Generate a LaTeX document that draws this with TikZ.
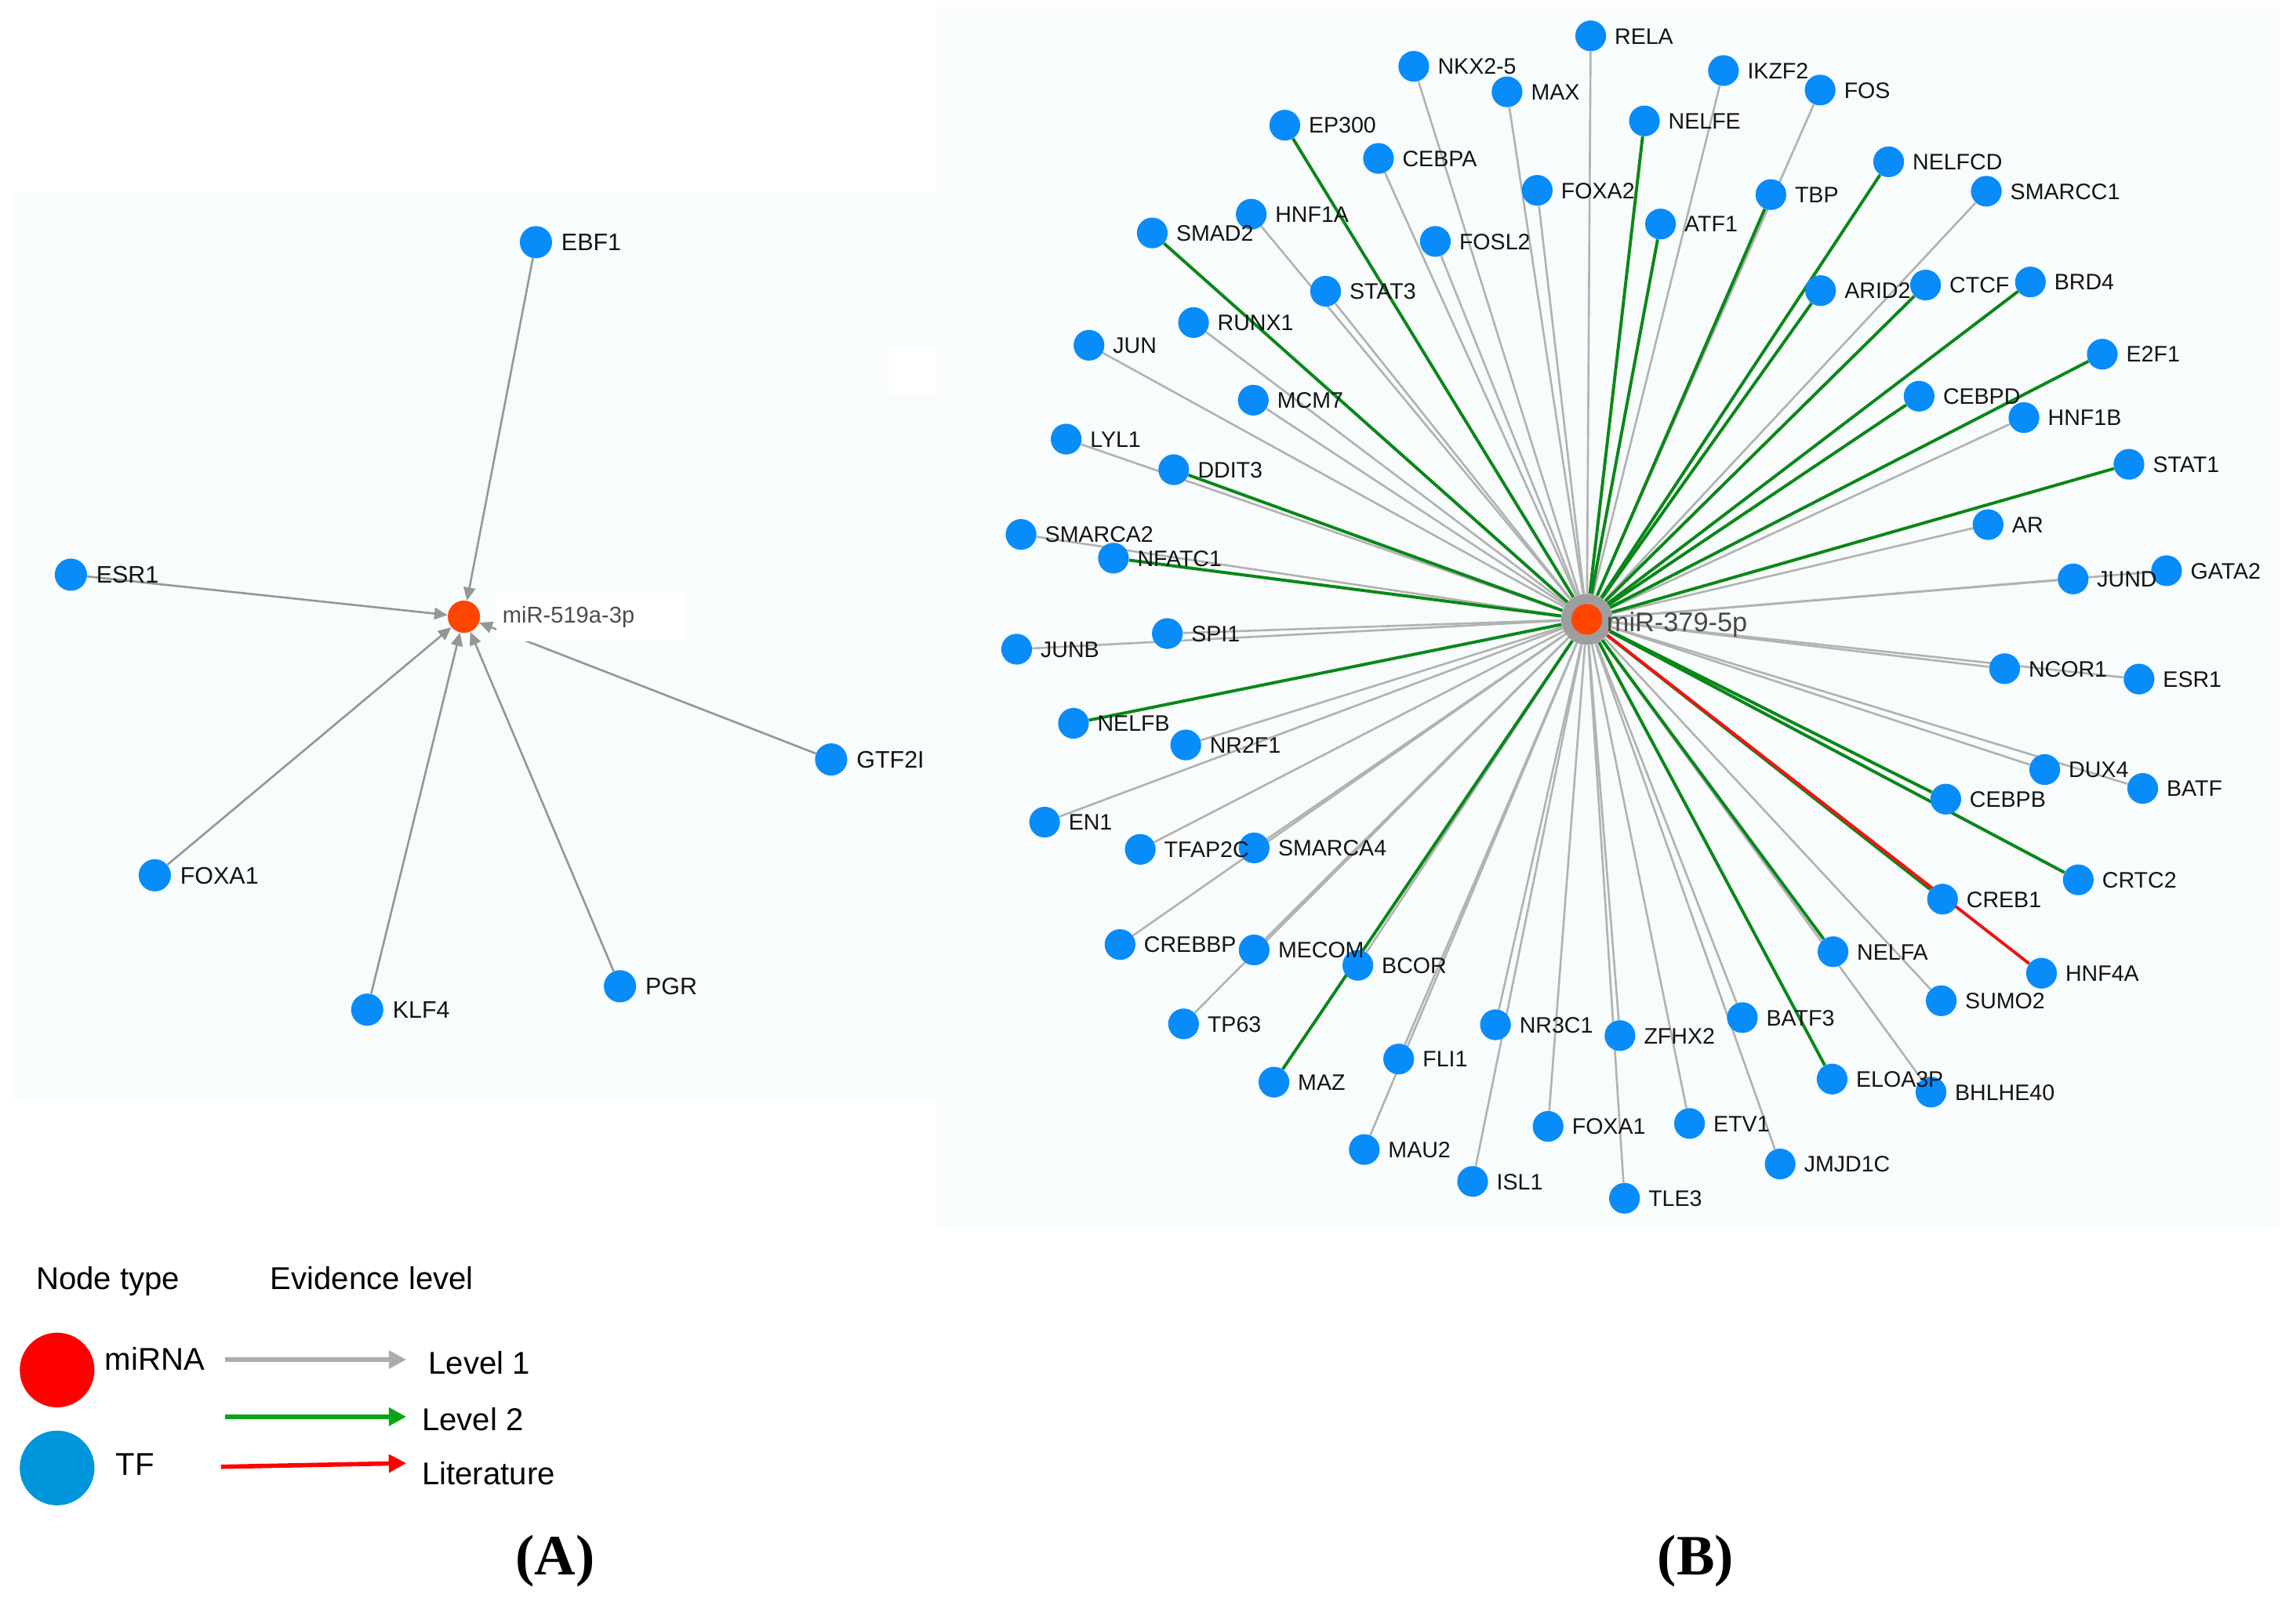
\documentclass[tikz,border=0pt]{standalone}
\usepackage{fontspec}
\newfontfamily\arial{Liberation Sans}
\newfontfamily\tnr{Liberation Serif}
\usetikzlibrary{arrows.meta}
\definecolor{tfblue}{RGB}{8,140,250}
\definecolor{mired}{RGB}{255,69,0}
\definecolor{panelbg}{RGB}{249,252,252}
\definecolor{edgegrey}{RGB}{178,178,178}
\definecolor{aedgegrey}{RGB}{150,150,150}
\definecolor{ringgrey}{RGB}{158,158,158}
\definecolor{edgegreen}{RGB}{10,135,25}
\definecolor{edgered}{RGB}{240,20,20}
\definecolor{legred}{RGB}{255,0,0}
\definecolor{legblue}{RGB}{0,150,220}
\definecolor{leggreen}{RGB}{10,165,20}
\definecolor{leggrey}{RGB}{172,172,172}
\pgfdeclarelayer{bgl}
\pgfdeclarelayer{edgel}
\pgfdeclarelayer{lab}
\pgfsetlayers{bgl,edgel,main,lab}
\newcommand\tfn[4]{\node[tfB] (b#1) at (#2,#3) {};\begin{pgfonlayer}{lab}\node[lblB] (b#1l) at ([xshift=5.5pt]b#1.east) {#4};\end{pgfonlayer}}
\newcommand\tfa[4]{\node[tfA] (a#1) at (#2,#3) {};\begin{pgfonlayer}{lab}\node[lblA] (a#1l) at ([xshift=6pt]a#1.east) {#4};\end{pgfonlayer}}
\begin{document}
\begin{tikzpicture}[x=1pt,y=-1pt,
  tfB/.style={circle,fill=tfblue,minimum size=21pt,inner sep=0pt},
  tfA/.style={circle,fill=tfblue,minimum size=22pt,inner sep=0pt},
  lblB/.style={anchor=west,inner sep=0pt,text=black!92,font=\arial\fontsize{15.3}{18}\selectfont,text height=11pt,text depth=0pt},
  lblA/.style={anchor=west,inner sep=0pt,text=black!92,font=\arial\fontsize{16.3}{19}\selectfont,text height=11.7pt,text depth=0pt},
  ge/.style={draw=edgegrey,line width=1.4pt},
  gre/.style={draw=edgegreen,line width=2.1pt},
  rde/.style={draw=edgered,line width=2.1pt},
  ae/.style={draw=aedgegrey,line width=1.4pt,-{Triangle[length=9pt,width=8pt]}},
  legt/.style={anchor=west,inner sep=0pt,font=\arial\fontsize{21.5}{25}\selectfont,text=black,text height=15.5pt,text depth=0pt},
  legar/.style={line width=3pt,-{Triangle[length=12pt,width=12pt]}},
  legc/.style={circle,minimum size=51pt,inner sep=0pt}
]
\useasboundingbox (0,0) rectangle (1568,1096);
\begin{pgfonlayer}{bgl}
\fill[panelbg] (8,131) rectangle (640,750);
\fill[panelbg] (640,5) rectangle (1557,838);
\fill[white] (607,237) rectangle (640,270);
\end{pgfonlayer}

% ---------- Panel A ----------
\node[circle,fill=mired,minimum size=22pt,inner sep=0pt] (cA) at (316.8,421.2) {};
\node[fill=white,anchor=west,inner xsep=4pt,inner ysep=0pt,text width=120pt,minimum height=33pt,align=left,text=black!70,font=\arial\fontsize{15.6}{18}\selectfont] (cAl) at (339,421.5) {miR-519a-3p};
\tfa{EBF1}{366}{165.4}{EBF1}
\tfa{ESR1}{48.4}{392.5}{ESR1}
\tfa{GTF2I}{567.6}{518.7}{GTF2I}
\tfa{FOXA1}{105.7}{597.8}{FOXA1}
\tfa{KLF4}{250.8}{689.6}{KLF4}
\tfa{PGR}{423.4}{673.6}{PGR}
\begin{pgfonlayer}{edgel}
\foreach \n in {EBF1,ESR1,GTF2I,FOXA1,KLF4,PGR} \draw[ae] (a\n) -- (cA);
\end{pgfonlayer}

% ---------- Panel B ----------
\node[circle,fill=ringgrey,minimum size=35pt,inner sep=0pt] (cB) at (1083.7,423) {};
\node[circle,fill=mired,minimum size=21pt,inner sep=0pt] (cBin) at (cB) {};
\begin{pgfonlayer}{lab}
\node[anchor=west,inner sep=0pt,text=black!72,font=\arial\fontsize{18.4}{22}\selectfont,text height=13.2pt,text depth=0pt] (cBl) at (1097,424.5) {miR-379-5p};
\end{pgfonlayer}
\tfn{RELA}{1086.3}{24.5}{RELA}
\tfn{NKXtwofive}{965.5}{45.3}{NKX2-5}
\tfn{IKZF2}{1177}{48.2}{IKZF2}
\tfn{FOS}{1243}{61.5}{FOS}
\tfn{MAX}{1029.2}{62.7}{MAX}
\tfn{NELFE}{1123}{82.6}{NELFE}
\tfn{EP300}{877.4}{85.5}{EP300}
\tfn{CEBPA}{941.4}{108.2}{CEBPA}
\tfn{NELFCD}{1289.8}{110.5}{NELFCD}
\tfn{FOXA2}{1049.8}{130}{FOXA2}
\tfn{SMARCC1}{1356.5}{130.6}{SMARCC1}
\tfn{TBP}{1209.4}{132.9}{TBP}
\tfn{HNF1A}{854.5}{146.3}{HNF1A}
\tfn{ATF1}{1134}{153}{ATF1}
\tfn{SMAD2}{786.9}{159.1}{SMAD2}
\tfn{FOSL2}{980.2}{164.9}{FOSL2}
\tfn{ARID2}{1243.3}{198.5}{ARID2}
\tfn{CTCF}{1315}{194.7}{CTCF}
\tfn{BRD4}{1386.6}{192.6}{BRD4}
\tfn{STAT3}{905.3}{198.9}{STAT3}
\tfn{RUNX1}{815.1}{220.3}{RUNX1}
\tfn{JUN}{743.7}{235.8}{JUN}
\tfn{E2F1}{1435.7}{241.9}{E2F1}
\tfn{CEBPD}{1310.6}{270.6}{CEBPD}
\tfn{MCM7}{855.9}{273.3}{MCM7}
\tfn{HNF1B}{1382.2}{285.2}{HNF1B}
\tfn{LYL1}{728.1}{299.9}{LYL1}
\tfn{DDIT3}{801.6}{320.8}{DDIT3}
\tfn{STAT1}{1453.9}{317.1}{STAT1}
\tfn{AR}{1357.7}{358.3}{AR}
\tfn{SMARCA2}{697.3}{365}{SMARCA2}
\tfn{NFATC1}{760.4}{381.2}{NFATC1}
\tfn{JUND}{1415.8}{395.4}{JUND}
\tfn{GATA2}{1479.6}{389.8}{GATA2}
\tfn{SPI1}{797.2}{432.7}{SPI1}
\tfn{JUNB}{694.3}{443.4}{JUNB}
\tfn{NCOR1}{1369}{456.7}{NCOR1}
\tfn{ESR1}{1460.8}{463.8}{ESR1}
\tfn{NELFB}{733.1}{494}{NELFB}
\tfn{NR2F1}{809.8}{508.8}{NR2F1}
\tfn{DUX4}{1396.4}{525.6}{DUX4}
\tfn{BATF}{1463.3}{538.5}{BATF}
\tfn{CEBPB}{1328.8}{545.8}{CEBPB}
\tfn{EN1}{713.4}{561.5}{EN1}
\tfn{TFAP2C}{778.7}{580.1}{TFAP2C}
\tfn{SMARCA4}{856.5}{579.1}{SMARCA4}
\tfn{CRTC2}{1419.3}{600.9}{CRTC2}
\tfn{CREB1}{1326.6}{614.1}{CREB1}
\tfn{CREBBP}{764.9}{645.1}{CREBBP}
\tfn{MECOM}{856.5}{648.8}{MECOM}
\tfn{NELFA}{1251.8}{650}{NELFA}
\tfn{BCOR}{927.3}{659.3}{BCOR}
\tfn{HNF4A}{1394.2}{664.7}{HNF4A}
\tfn{SUMO2}{1325.7}{683.5}{SUMO2}
\tfn{BATF3}{1189.9}{695}{BATF3}
\tfn{TP63}{808.3}{699.3}{TP63}
\tfn{NR3C1}{1021.3}{699.9}{NR3C1}
\tfn{ZFHX2}{1106.3}{707.3}{ZFHX2}
\tfn{FLI1}{955.2}{723.3}{FLI1}
\tfn{ELOA3P}{1251.2}{737}{ELOA3P}
\tfn{MAZ}{870}{739.1}{MAZ}
\tfn{BHLHE40}{1318.7}{745.9}{BHLHE40}
\tfn{FOXA1}{1057.2}{769.3}{FOXA1}
\tfn{ETV1}{1153.8}{767.3}{ETV1}
\tfn{MAU2}{931.7}{785.1}{MAU2}
\tfn{JMJD1C}{1215.7}{795}{JMJD1C}
\tfn{ISL1}{1005.7}{806.9}{ISL1}
\tfn{TLE3}{1109.4}{818.4}{TLE3}
\begin{pgfonlayer}{edgel}
\foreach \n in {RELA,NKXtwofive,IKZF2,FOS,MAX,CEBPA,FOXA2,SMARCC1,HNF1A,FOSL2,STAT3,RUNX1,JUN,MCM7,HNF1B,LYL1,AR,SMARCA2,JUND,GATA2,SPI1,JUNB,NCOR1,ESR1,NR2F1,DUX4,BATF,EN1,TFAP2C,SMARCA4,CREBBP,MECOM,BCOR,TP63,NR3C1,ZFHX2,BATF3,SUMO2,FLI1,BHLHE40,FOXA1,ETV1,MAU2,JMJD1C,ISL1,TLE3}
  \draw[ge] (cB) -- (b\n);
\foreach \n in {NELFE,EP300,NELFCD,TBP,ATF1,SMAD2,ARID2,CTCF,BRD4,E2F1,CEBPD,DDIT3,STAT1,NFATC1,NELFB,CEBPB,CRTC2,CREB1,NELFA,MAZ,ELOA3P}
  \draw[gre] (cB) -- (b\n);
\draw[rde] (cB) -- (bHNF4A);
\end{pgfonlayer}

% ---------- Legend ----------
\node[legt] (lgNT) at (24.5,873) {Node type};
\node[legt] (lgEL) at (184.5,873) {Evidence level};
\node[legc,fill=legred] (lgMi) at (39,935.7) {};
\node[legc,fill=legblue] (lgTF) at (39,1002.6) {};
\node[legt] (lgMiT) at (71.5,928) {miRNA};
\node[legt] (lgTFT) at (79,1000) {TF};
\coordinate (l1s) at (153.5,928.6);
\coordinate (l1e) at (277.5,928.6);
\coordinate (l2s) at (153.5,967.6);
\coordinate (l2e) at (277.5,967.6);
\coordinate (l3s) at (151,1001.8);
\coordinate (l3e) at (277.5,999.3);
\draw[legar,draw=leggrey,fill=leggrey] (l1s) -- (l1e);
\draw[legar,draw=leggreen,fill=leggreen] (l2s) -- (l2e);
\draw[legar,draw=legred,fill=legred] (l3s) -- (l3e);
\node[legt] (lgL1) at (292.4,930.5) {Level 1};
\node[legt] (lgL2) at (288,969.5) {Level 2};
\node[legt] (lgLit) at (288,1006) {Literature};
\node[inner sep=0pt,font=\tnr\bfseries\fontsize{39}{44}\selectfont] (capA) at (379,1066) {(A)};
\node[inner sep=0pt,font=\tnr\bfseries\fontsize{39}{44}\selectfont] (capB) at (1158,1066) {(B)};
\end{tikzpicture}
\end{document}
